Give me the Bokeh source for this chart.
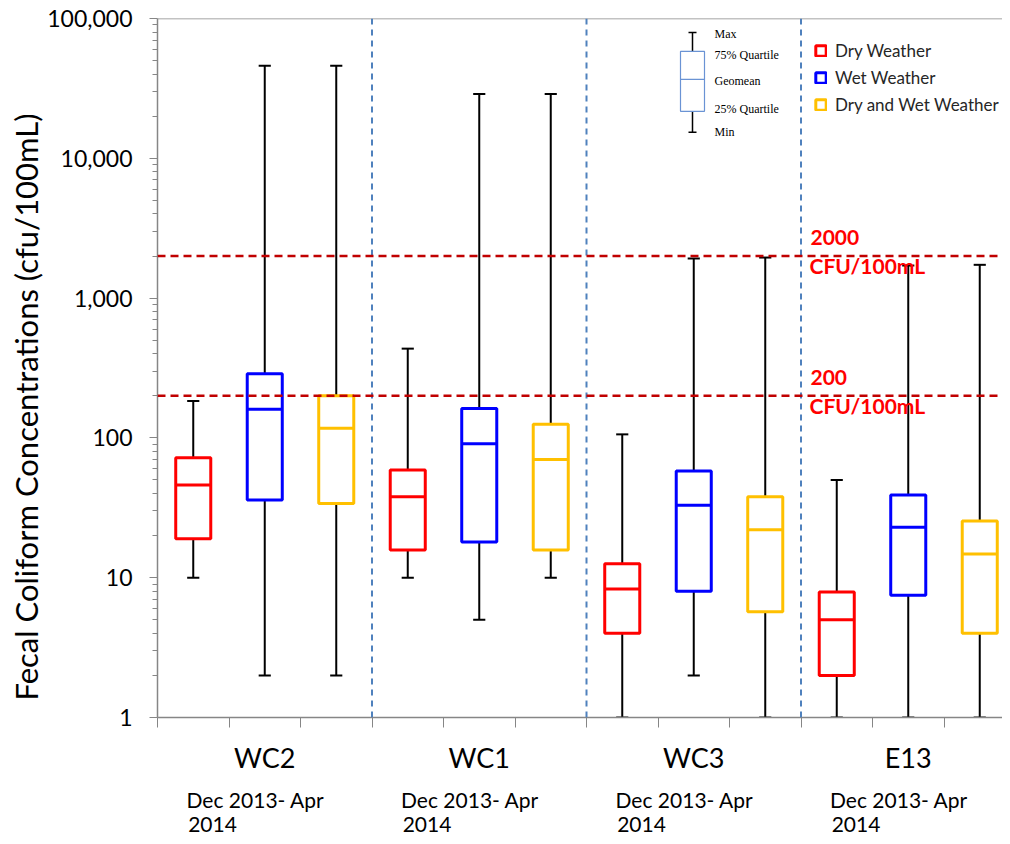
from bokeh.plotting import figure
from bokeh.models import (Range1d, FixedTicker, NumeralTickFormatter, Span, Label, Title,
                          Legend, LegendItem, ColumnDataSource, LinearAxis)
from bokeh.embed import file_html
from bokeh.resources import INLINE

# ---------------- data ----------------
sites = ["WC2", "WC1", "WC3", "E13"]
period_line1 = "Dec 2013- Apr"
period_line2 = "2014"
conditions = ["Dry Weather", "Wet Weather", "Dry and Wet Weather"]
colors = ["#FF0000", "#0000FF", "#FFC000"]

dry_min = [10, 10, 1, 1]
dry_q25 = [19, 15.8, 4.0, 2.0]
dry_geo = [46, 38, 8.3, 5.0]
dry_q75 = [72, 59, 12.6, 7.9]
dry_max = [184, 435, 106, 50]

wet_min = [2, 5, 2, 1]
wet_q25 = [36, 18, 8, 7.5]
wet_geo = [160, 91, 33, 23]
wet_q75 = [288, 162, 58, 39]
wet_max = [46000, 28800, 1920, 1710]

all_min = [2, 10, 1, 1]
all_q25 = [34, 15.8, 5.7, 4.0]
all_geo = [117, 70, 22, 14.8]
all_q75 = [200, 125, 38, 25.4]
all_max = [46000, 28800, 1950, 1730]

thresholds = [2000, 200]
threshold_labels = ["2000", "200"]
unit_label = "CFU/100mL"
y_ticks = [1, 10, 100, 1000, 10000, 100000]
key_labels = ["Max", "75% Quartile", "Geomean", "25% Quartile", "Min"]
y_title = "Fecal Coliform Concentrations  (cfu/100mL)"

series = [
    (dry_min, dry_q25, dry_geo, dry_q75, dry_max),
    (wet_min, wet_q25, wet_geo, wet_q75, wet_max),
    (all_min, all_q25, all_geo, all_q75, all_max),
]

# ---------------- layout helpers ----------------
X0_PX, PX_PER_CAT = 157.0, 71.5
Y0_PX, PX_PER_DEC = 717.0, 140.0
def xd(px):
    return (px - X0_PX) / PX_PER_CAT
def yd(py):
    return 10 ** ((Y0_PX - py) / PX_PER_DEC)

FONT = "Lato"
BOX_W = 0.49
CAP_W = 0.17
n_groups = len(sites)
n_cond = len(conditions)
W, H = 1002, 836

p = figure(width=W, height=H, output_backend="svg", toolbar_location=None,
           y_axis_type="log", x_range=Range1d(0, xd(W)), y_range=Range1d(1, 100000),
           min_border_left=157, min_border_top=18, min_border_bottom=H - 717, min_border_right=0)
p.outline_line_color = None
p.xgrid.visible = False
p.ygrid.visible = False
p.background_fill_color = "white"
p.border_fill_color = "white"

# ---- y axis
yax = p.yaxis[0]
yax.ticker = FixedTicker(ticks=y_ticks,
                         minor_ticks=[k * 10 ** d for d in range(5) for k in range(2, 10)])
yax.formatter = NumeralTickFormatter(format="0,0")
yax.axis_line_color = "#868686"
yax.axis_line_width = 1.5
yax.major_tick_line_color = "#868686"
yax.minor_tick_line_color = "#868686"
yax.major_tick_in = 0
yax.major_tick_out = 8
yax.minor_tick_in = 0
yax.minor_tick_out = 5
yax.major_label_standoff = 17
yax.major_label_text_font = FONT
yax.major_label_text_font_size = "23px"
yax.major_label_text_color = "#000000"

p.add_layout(Title(text=y_title, align="left", offset=17, standoff=0, text_font=FONT,
                   text_font_size="31px", text_font_style="normal", text_color="#000000"),
             "left")

# ---- x axis (category boundaries)
xax = p.xaxis[0]
n_cat = n_groups * n_cond
xax.ticker = FixedTicker(ticks=list(range(n_cat + 1)), minor_ticks=[])
xax.major_label_overrides = {i: "" for i in range(n_cat + 1)}
xax.major_label_text_font_size = "1px"
xax.major_label_standoff = 0
xax.axis_line_color = "#868686"
xax.axis_line_width = 1.5
xax.major_tick_line_color = "#868686"
xax.major_tick_in = 0
xax.major_tick_out = 10

def text_axis(ticks, labels, size, standoff):
    ax = LinearAxis(ticker=FixedTicker(ticks=ticks, minor_ticks=[]),
                    major_label_overrides={t: l for t, l in zip(ticks, labels)},
                    major_label_text_font=FONT, major_label_text_font_size=size,
                    major_label_text_color="#000000", major_label_standoff=standoff,
                    axis_line_color=None, major_tick_line_color=None,
                    major_tick_in=0, major_tick_out=0)
    p.add_layout(ax, "below")

centers = [g * n_cond + n_cond / 2 for g in range(n_groups)]
text_axis(centers, sites, "27px", 13)
text_axis([c - 0.13 for c in centers], [period_line1] * n_groups, "21px", 10)
text_axis([c - 0.73 for c in centers], [period_line2] * n_groups, "21px", 2)

# top border line
p.add_layout(Span(location=100000, dimension="width", line_color="#868686", line_width=1.5))

# group separators
for g in range(1, n_groups):
    p.add_layout(Span(location=g * n_cond, dimension="height", line_color="#4F81BD",
                      line_width=2, line_dash="6 5"))

# boxes
box_renderers = []
for k, (mn, q25, geo, q75, mx) in enumerate(series):
    xs = [g * n_cond + k + 0.5 for g in range(n_groups)]
    src = ColumnDataSource(dict(
        x=xs, left=[x - BOX_W / 2 for x in xs], right=[x + BOX_W / 2 for x in xs],
        cl=[x - CAP_W / 2 for x in xs], cr=[x + CAP_W / 2 for x in xs],
        mn=mn, q25=q25, geo=geo, q75=q75, mx=mx))
    p.segment(x0="x", y0="q75", x1="x", y1="mx", source=src, line_color="black", line_width=2)
    p.segment(x0="x", y0="q25", x1="x", y1="mn", source=src, line_color="black", line_width=2)
    p.segment(x0="cl", y0="mx", x1="cr", y1="mx", source=src, line_color="black", line_width=2)
    p.segment(x0="cl", y0="mn", x1="cr", y1="mn", source=src, line_color="black", line_width=2)
    r = p.quad(left="left", right="right", bottom="q25", top="q75", source=src,
               fill_color="white", line_color=colors[k], line_width=3)
    p.segment(x0="left", y0="geo", x1="right", y1="geo", source=src,
              line_color=colors[k], line_width=3)
    box_renderers.append(r)

# thresholds
for t, lab in zip(thresholds, threshold_labels):
    p.add_layout(Span(location=t, dimension="width", line_color="#C00000",
                      line_width=2.5, line_dash="8 5"))
    p.add_layout(Label(x=xd(810), y=t, text=lab, text_baseline="bottom", y_offset=11,
                       text_color="#FF0000", text_font=FONT, text_font_style="bold",
                       text_font_size="21px"))
    p.add_layout(Label(x=xd(809), y=t, text=unit_label, text_baseline="top", y_offset=3,
                       text_color="#FF0000", text_font=FONT, text_font_style="bold",
                       text_font_size="21px"))

# box-plot key
kx = xd(692)
p.segment(x0=[kx, kx], y0=[yd(31), yd(110)], x1=[kx, kx], y1=[yd(50), yd(131)],
          line_color="black", line_width=1.5)
p.segment(x0=[xd(688), xd(688)], y0=[yd(31), yd(131)], x1=[xd(696), xd(696)],
          y1=[yd(31), yd(131)], line_color="black", line_width=1.5)
p.quad(left=[xd(680)], right=[xd(704)], bottom=[yd(110)], top=[yd(50)],
       fill_color="white", line_color="#6A93D4", line_width=1.2)
p.segment(x0=[xd(680)], y0=[yd(78)], x1=[xd(704)], y1=[yd(78)],
          line_color="#6A93D4", line_width=1.2)
for lab, py in zip(key_labels, [33, 54, 80, 108, 131]):
    p.add_layout(Label(x=xd(714), y=yd(py), text=lab, text_baseline="middle",
                       text_font="Liberation Serif", text_font_size="12px",
                       text_color="#000000"))

# legend
legend = Legend(items=[LegendItem(label=c, renderers=[r]) for c, r in zip(conditions, box_renderers)],
                location=(657, 602), orientation="vertical", glyph_width=13, glyph_height=13,
                label_height=20, spacing=6, padding=0, margin=0, border_line_alpha=0,
                background_fill_alpha=0, label_standoff=8, label_text_font=FONT,
                label_text_font_size="17px", label_text_color="#262626")
p.add_layout(legend)

open("out.html", "w").write(file_html(p, INLINE))
